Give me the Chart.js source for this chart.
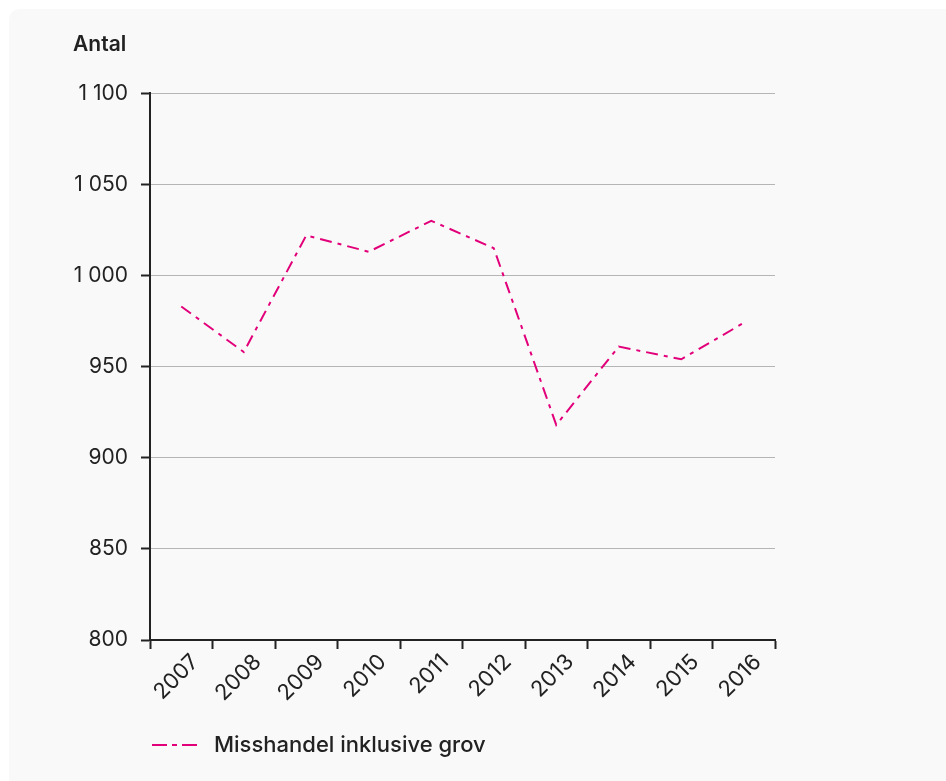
<!DOCTYPE html>
<html>
<head>
<meta charset="utf-8">
<script src="https://cdn.jsdelivr.net/npm/chart.js@4/dist/chart.umd.min.js"></script>
<style>
	html, body { margin: 0; padding: 0; background: #fff; }
	#panel {
		position: absolute; left: 9px; top: 9px;
		width: 937px; height: 772px;
		background: #f9f9f9;
		border-top-left-radius: 10px;
	}
	canvas { display: block; }
</style>
</head>
<body>
<div id="panel"><canvas id="chart" width="937" height="772"></canvas></div>
<script>
// data
var years = ['2007', '2008', '2009', '2010', '2011', '2012', '2013', '2014', '2015', '2016'];
var misshandel = [983, 958, 1022, 1013, 1030, 1015, 918, 961, 954, 974];
var yTicks = [800, 850, 900, 950, 1000, 1050, 1100];
var seriesName = 'Misshandel inklusive grov';
var yTitle = 'Antal';

var font = 'Inter, "DejaVu Sans", sans-serif';
var ink = '#222';
var pink = '#e2007a';

// "1 100" style numbers
function fmt(v) {
	var s = String(v);
	return s.length > 3 ? s.slice(0, s.length - 3) + ' ' + s.slice(-3) : s;
}

// legend sample: dash-dot line, drawn once on a small canvas
var sample = document.createElement('canvas');
sample.width = 51;
sample.height = 4;
var sctx = sample.getContext('2d');
sctx.strokeStyle = pink;
sctx.lineWidth = 2;
sctx.setLineDash([15, 5, 5, 5, 15]);
sctx.beginPath();
sctx.moveTo(0, 2);
sctx.lineTo(45, 2);
sctx.stroke();

var ctx = document.getElementById('chart').getContext('2d');
var chart = new Chart(ctx, {
	type: 'line',
	data: {
		labels: years,
		datasets: [{
			label: seriesName,
			data: misshandel,
			borderColor: pink,
			backgroundColor: pink,
			borderWidth: 2,
			borderDash: [12, 6, 4, 6],
			pointRadius: 0,
			tension: 0,
			fill: false
		}]
	},
	options: {
		responsive: false,
		animation: false,
		layout: { padding: { left: 64, right: 171, top: 23, bottom: 15 } },
		plugins: {
			title: {
				display: true,
				text: yTitle,
				align: 'start',
				color: ink,
				font: { family: font, size: 21, weight: '600' },
				padding: { top: 0, bottom: 36 }
			},
			legend: {
				position: 'bottom',
				align: 'start',
				fullSize: false,
				labels: {
					usePointStyle: true,
					pointStyle: sample,
					pointStyleWidth: 51,
					padding: 2,
					color: ink,
					font: { family: font, size: 22, weight: '500' }
				}
			},
			tooltip: { enabled: false }
		},
		scales: {
			x: {
				offset: true,
				border: { display: true, color: ink, width: 2 },
				grid: {
					offset: true,
					drawOnChartArea: false,
					drawTicks: true,
					tickLength: 9,
					tickColor: ink,
					tickWidth: 2
				},
				ticks: {
					color: ink,
					font: { family: font, size: 22 },
					minRotation: 45,
					maxRotation: 45,
					padding: 0,
					labelOffset: 14
				},
				afterFit: function(scale) { scale.height = 92; }
			},
			y: {
				min: 800,
				max: 1100,
				afterBuildTicks: function(scale) {
					scale.ticks = yTicks.map(function(v) { return { value: v }; });
				},
				border: { display: true, color: ink, width: 2 },
				grid: {
					color: '#b5b5b5',
					lineWidth: 1,
					drawTicks: true,
					tickLength: 9,
					tickColor: ink,
					tickWidth: 2
				},
				ticks: {
					color: ink,
					padding: 13,
					font: { family: font, size: 21 },
					callback: function(v) { return fmt(v); }
				},
				afterFit: function(scale) { scale.width = 77; }
			}
		}
	}
});
</script>
</body>
</html>
